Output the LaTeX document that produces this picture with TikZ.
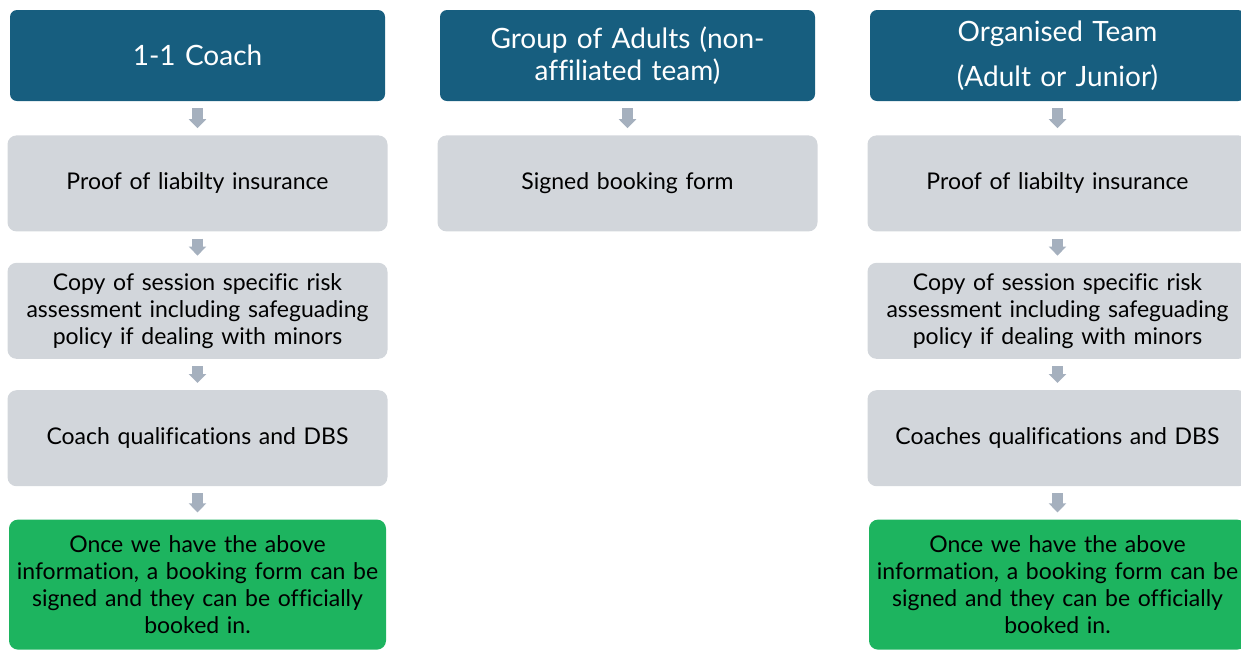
\documentclass[tikz,border=0pt]{standalone}
\usepackage{fontspec}
\setmainfont{Lato}[Ligatures=NoCommon]
\usetikzlibrary{positioning,arrows.meta}
\definecolor{headblue}{RGB}{23,94,127}
\definecolor{stepgray}{RGB}{210,214,219}
\definecolor{donegreen}{RGB}{29,180,95}
\definecolor{linkgray}{RGB}{165,176,190}

\begin{document}
\begin{tikzpicture}
		[x=1pt,y=-1pt,
		head/.style={rectangle,rounded corners=7pt,fill=headblue,text=white,inner sep=0pt,minimum width=375pt,minimum height=91pt,text width=370pt,align=center,font=\fontsize{28}{32}\selectfont},
		req/.style={rectangle,rounded corners=9pt,fill=stepgray,inner sep=0pt,minimum width=380pt,minimum height=96pt,text width=376pt,align=center,font=\fontsize{23}{27}\selectfont},
		done/.style={req,fill=donegreen,minimum width=377pt,minimum height=130pt},
		link/.style={linkgray,line width=11pt,shorten <=7pt,shorten >=7pt,-{Triangle[length=9pt,width=17pt]}}]
		\useasboundingbox (0,0) rectangle (1241,649);
		\clip (0,0) rectangle (1241,649);

		\node [head] (c1) at (197.5,55.5) {1-1 Coach};
		\node [req] (c1a) [below=34pt of c1] {Proof of liabilty insurance};
		\node [req] (c1b) [below=31pt of c1a] {Copy of session specific risk\\assessment including safeguading\\policy if dealing with minors};
		\node [req] (c1c) [below=31pt of c1b] {Coach qualifications and DBS};
		\node [done] (c1d) [below=33pt of c1c] {Once we have the above\\information, a booking form can be\\signed and they can be officially\\booked in.};

		\node [head] (c2) at (627.5,55.5) {Group of Adults (non-\\affiliated team)};
		\node [req] (c2a) [below=34pt of c2] {Signed booking form};

		\node [head] (c3) at (1057.5,55.5) {Organised Team\\[13pt](Adult or Junior)};
		\node [req] (c3a) [below=34pt of c3] {Proof of liabilty insurance};
		\node [req] (c3b) [below=31pt of c3a] {Copy of session specific risk\\assessment including safeguading\\policy if dealing with minors};
		\node [req] (c3c) [below=31pt of c3b] {Coaches qualifications and DBS};
		\node [done] (c3d) [below=33pt of c3c] {Once we have the above\\information, a booking form can be\\signed and they can be officially\\booked in.};

		\draw [link] (c1) -- (c1a);
		\draw [link] (c1a) -- (c1b);
		\draw [link] (c1b) -- (c1c);
		\draw [link] (c1c) -- (c1d);
		\draw [link] (c2) -- (c2a);
		\draw [link] (c3) -- (c3a);
		\draw [link] (c3a) -- (c3b);
		\draw [link] (c3b) -- (c3c);
		\draw [link] (c3c) -- (c3d);

	\end{tikzpicture}
\end{document}
